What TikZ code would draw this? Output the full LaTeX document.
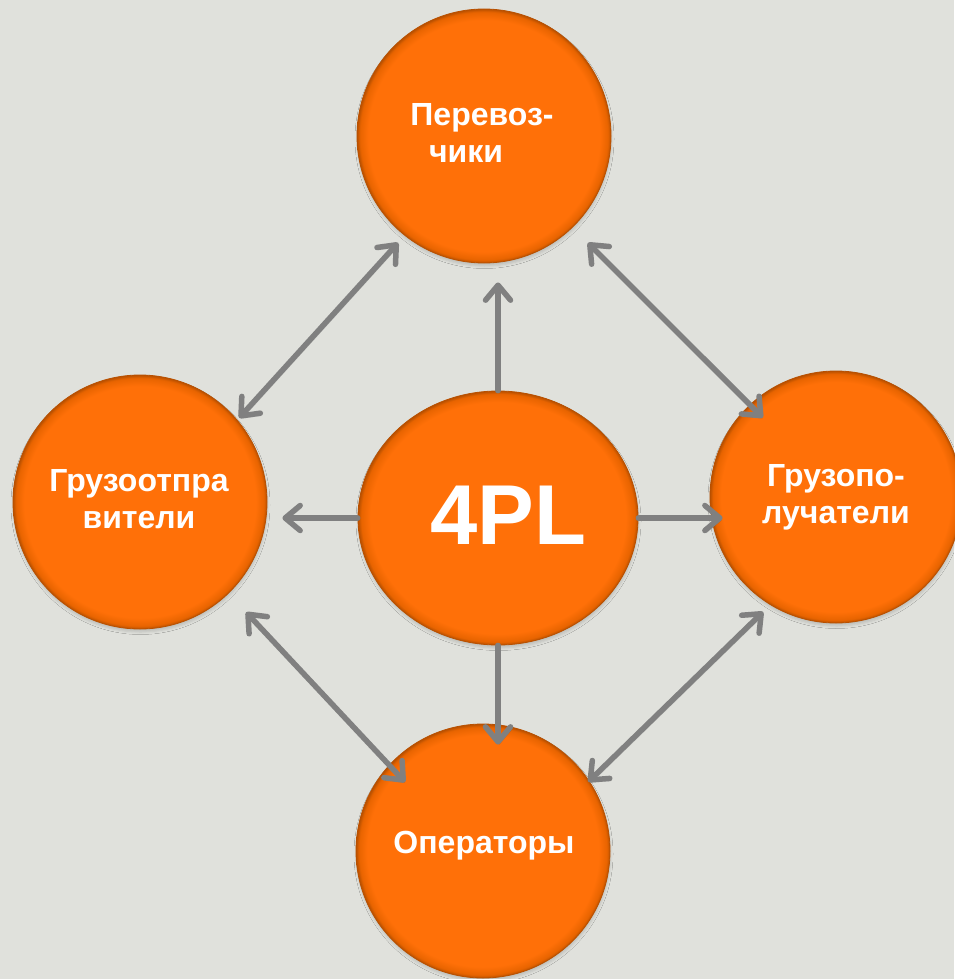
\documentclass[tikz,border=0pt]{standalone}
\usepackage{fontspec}
\setmainfont{Liberation Sans}
\usetikzlibrary{arrows.meta,calc,shapes.geometric,shadows.blur}

\definecolor{bg}{HTML}{E0E1DC}
\definecolor{disc}{HTML}{FF7008}
\definecolor{discrim}{HTML}{E86400}
\definecolor{discedge}{HTML}{B85000}
\definecolor{linkgray}{HTML}{808080}

% flat orange disc with a darker bevelled rim
\pgfdeclareradialshading{discbevel}{\pgfpoint{0bp}{0bp}}{%
  color(0bp)=(disc); color(22.8bp)=(disc); color(24.4bp)=(discrim);
  color(25bp)=(discedge); color(50bp)=(discedge)}

\tikzset{
  disc/.style={circle, minimum size=254pt, inner sep=0pt, shading=discbevel,
    draw=discedge, line width=0.8pt,
    blur shadow={shadow xshift=0.5pt, shadow yshift=-3pt,
                 shadow blur radius=2.5pt, shadow opacity=15}},
  lbl/.style={text=white, font=\fontsize{32}{37}\selectfont\bfseries,
    align=center, inner sep=0pt},
  barb/.tip={Straight Barb[length=15pt, width=25pt, line cap=round, line join=round]},
  linkbase/.style={draw=linkgray, line width=5.5pt, line cap=round,
    preaction={draw=black, opacity=0.12,
               transform canvas={xshift=1.5pt, yshift=-2.5pt}}},
  link/.style={linkbase, -barb},
  bilink/.style={linkbase, barb-barb},
}

\begin{document}
\begin{tikzpicture}[x=1pt, y=-1pt]
  \useasboundingbox (0,0) rectangle (954,979);
  \fill[bg] (0,0) rectangle (954,979);

  % the five discs
  \node[disc] (t) at (484,136) {};
  \node[disc] (l) at (140,502) {};
  \node[disc, minimum size=252pt] (r) at (836,497) {};
  \node[disc] (b) at (483,851) {};
  \node[disc, ellipse, minimum width=280pt, minimum height=254pt] (c) at (498,518) {};

  % from the hub to each partner
  \draw[link, shorten >=19pt] (c.north) -- (c.north |- t.south);
  \draw[link, shorten >=-21pt] (c.south) -- (c.south |- b.north);
  \draw[link, shorten >=15pt] (c.west) -- (c.west -| l.east);
  \draw[link, shorten >=-13pt] (c.east) -- (c.east -| r.west);

  % two-way links around the ring
  \draw[bilink] ($(l)+(40.3:130pt)$)  -- ($(t)+(231.2:137pt)$);
  \draw[bilink] ($(t)+(314.2:149pt)$) -- ($(r)+(132.7:108pt)$);
  \draw[bilink] ($(l)+(313.9:153pt)$) -- ($(b)+(138.5:104pt)$);
  \draw[bilink] ($(r)+(237.6:136pt)$) -- ($(b)+(33.3:126pt)$);

  % labels
  \node[lbl, anchor=north] (tt) at (482,103) {Перевоз-\\чики\hspace*{32pt}};
  \node[lbl, anchor=north] (lt) at (139,469) {Грузоотпра\\вители};
  \node[lbl, anchor=north] (rt) at (836,464) {Грузопо-\\лучатели};
  \node[lbl, anchor=base] (bt) at (484,853) {Операторы};
  \node[lbl, anchor=base, font=\fontsize{85}{90}\selectfont\bfseries] (ct) at (508,544) {4PL};
\end{tikzpicture}
\end{document}
